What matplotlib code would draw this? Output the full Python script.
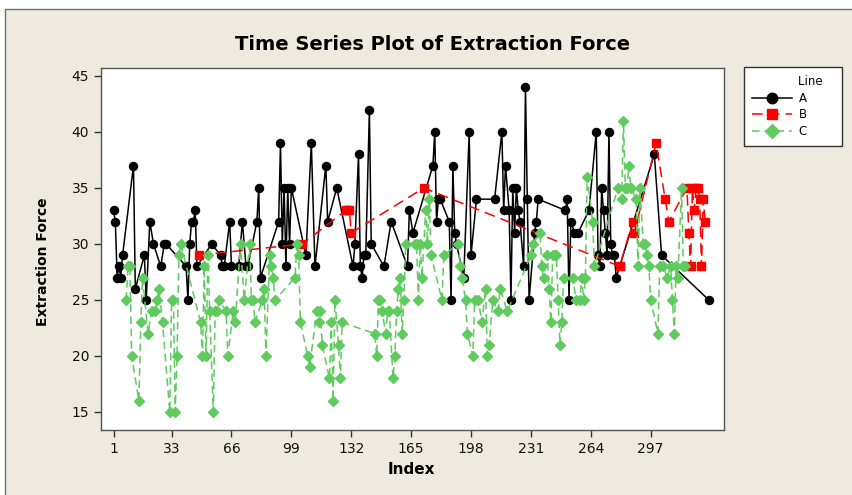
import matplotlib
matplotlib.use("Agg")
import matplotlib.pyplot as plt
from matplotlib.patches import Rectangle

# (index, extraction force), one list per line group
series_a = [(1, 33), (2, 32), (3, 27), (4, 28), (5, 27), (6, 29), (12, 37), (13, 26),
            (18, 29), (19, 25), (21, 32), (23, 30), (27, 28), (29, 30), (30, 30),
            (41, 28), (42, 25), (43, 30), (44, 32), (45, 32), (46, 33), (47, 28),
            (55, 30), (60, 29), (61, 28), (62, 28), (65, 32), (66, 28), (70, 28),
            (72, 32), (74, 28), (75, 28), (80, 32), (81, 35), (82, 27), (92, 32),
            (93, 39), (94, 30), (95, 35), (96, 28), (97, 35), (98, 30), (99, 35),
            (107, 29), (110, 39), (112, 28), (118, 37), (119, 32), (124, 35),
            (133, 28), (134, 30), (136, 38), (137, 28), (138, 27), (139, 29),
            (140, 29), (142, 42), (143, 30), (150, 28), (154, 32), (163, 28),
            (164, 33), (166, 31), (177, 37), (178, 40), (179, 32), (180, 34),
            (181, 34), (186, 32), (187, 25), (188, 37), (189, 31), (190, 30),
            (194, 27), (197, 40), (198, 29), (201, 34), (211, 34), (215, 40),
            (216, 33), (217, 37), (219, 33), (220, 25), (221, 35), (222, 31),
            (223, 35), (224, 33), (225, 32), (227, 28), (228, 44), (229, 34),
            (230, 25), (233, 31), (234, 32), (235, 34), (250, 33), (251, 34),
            (252, 25), (253, 32), (255, 31), (257, 31), (263, 33), (267, 40),
            (268, 29), (269, 28), (270, 35), (271, 33), (272, 31), (273, 29),
            (274, 40), (275, 30), (276, 29), (277, 29), (278, 27), (299, 38),
            (303, 29), (329, 25)]

series_b = [(48, 29), (105, 30), (129, 33), (130, 33), (131, 33), (132, 31),
            (172, 35), (280, 28), (287, 32), (288, 31), (300, 39), (305, 34),
            (307, 32), (317, 35), (318, 31), (319, 28), (320, 35), (321, 33),
            (322, 35), (323, 35), (324, 34), (325, 28), (326, 34), (327, 32)]

series_c = [(8, 25), (9, 28), (10, 28), (11, 20), (15, 16), (16, 23), (17, 27),
            (20, 22), (22, 24), (24, 24), (25, 25), (26, 26), (28, 23), (32, 15),
            (33, 25), (34, 25), (35, 15), (36, 20), (37, 29), (38, 30), (49, 23),
            (50, 20), (51, 28), (52, 20), (53, 29), (54, 24), (56, 15), (57, 24),
            (58, 24), (59, 25), (63, 24), (64, 20), (67, 24), (68, 23), (71, 30),
            (73, 25), (76, 30), (77, 25), (78, 25), (79, 23), (83, 25), (84, 26),
            (85, 20), (87, 29), (88, 28), (89, 27), (90, 25), (101, 27), (102, 30),
            (103, 29), (104, 23), (108, 20), (109, 19), (113, 24), (114, 23),
            (115, 24), (116, 21), (120, 18), (121, 23), (122, 16), (123, 25),
            (125, 21), (126, 18), (127, 23), (145, 22), (146, 20), (147, 25),
            (148, 25), (149, 24), (151, 22), (152, 24), (153, 24), (155, 18),
            (156, 20), (157, 24), (158, 26), (159, 27), (160, 22), (161, 25),
            (162, 30), (167, 30), (168, 30), (169, 25), (170, 30), (171, 27),
            (173, 33), (174, 30), (175, 34), (176, 29), (182, 25), (183, 29),
            (191, 30), (192, 28), (193, 27), (195, 25), (196, 22), (199, 20),
            (200, 25), (202, 25), (204, 23), (206, 26), (207, 20), (208, 21),
            (210, 25), (213, 24), (214, 26), (218, 24), (231, 29), (232, 30),
            (236, 31), (237, 28), (238, 27), (240, 29), (241, 26), (242, 23),
            (243, 29), (244, 29), (245, 29), (246, 25), (247, 21), (248, 23),
            (249, 27), (254, 27), (256, 25), (258, 25), (259, 27), (260, 25),
            (261, 27), (262, 36), (265, 32), (266, 28), (279, 35), (281, 34),
            (282, 41), (283, 35), (284, 35), (285, 37), (286, 35), (289, 34),
            (290, 28), (291, 35), (293, 30), (294, 30), (295, 29), (296, 28),
            (297, 25), (301, 22), (302, 28), (304, 28), (306, 27), (308, 28),
            (309, 25), (310, 22), (311, 28), (312, 27), (314, 35), (315, 28),
            (316, 28)]

x_ticks = [1, 33, 66, 99, 132, 165, 198, 231, 264, 297]
y_ticks = [15, 20, 25, 30, 35, 40, 45]
group_labels = ["A", "B", "C"]

W, H = 852, 495
fig = plt.figure(figsize=(W / 100, H / 100), dpi=100, facecolor="white")

# Minitab-style beige graph region, kept behind the axes
fig.patches.append(Rectangle((5 / W, -0.05), 1.1, 1 - 9 / H + 0.05,
                             transform=fig.transFigure, facecolor="#EEEAE0",
                             edgecolor="#707070", linewidth=1, zorder=-10))

ax = fig.add_axes([101 / W, 1 - 430 / H, (724 - 101) / W, (430 - 68) / H])
ax.set_facecolor("white")

xa, ya = zip(*series_a)
xb, yb = zip(*series_b)
xc, yc = zip(*series_c)

la, = ax.plot(xa, ya, color="black", lw=1.1, marker="o", ms=5.8, zorder=3)
lb, = ax.plot(xb, yb, color="#FF0000", lw=1.1, ls=(0, (7, 4)), marker="s",
              ms=5.2, zorder=4)
lc, = ax.plot(xc, yc, color="#5FCB5F", lw=1.1, ls=(0, (5, 3)), marker="D",
              ms=5.2, zorder=5)

ax.set_xlim(-5.9, 337.4)
ax.set_ylim(13.39, 45.71)
ax.set_xticks(x_ticks)
ax.set_yticks(y_ticks)
ax.tick_params(direction="out", length=5, width=1, colors="#333333",
               labelsize=10, labelcolor="#111111")
for s in ax.spines.values():
    s.set_color("#555555")
    s.set_linewidth(1)

fig.text(433 / W, 1 - 44 / H, "Time Series Plot of Extraction Force",
         ha="center", va="center", fontsize=14, fontweight="bold")
fig.text(411 / W, 1 - 470 / H, "Index", ha="center", va="center",
         fontsize=11, fontweight="bold")
fig.text(43 / W, 1 - 262 / H, "Extraction Force", ha="center", va="center",
         rotation=90, fontsize=10, fontweight="bold")

# trailing spaces widen the box the way Minitab's legend is padded
leg = fig.legend(handles=[la, lb, lc],
                 labels=[g + "       " for g in group_labels], title="Line   ",
                 loc="upper left", bbox_to_anchor=(744 / W, 1 - 67 / H),
                 fontsize=8.5, title_fontsize=8.5, handlelength=3.4,
                 handletextpad=0.6, alignment="right", borderaxespad=0,
                 fancybox=False, edgecolor="#333333", facecolor="white",
                 framealpha=1, labelspacing=0.3, borderpad=0.7,
                 markerscale=1.3)
leg.get_frame().set_linewidth(1)

fig.savefig("out.png", dpi=100, facecolor=fig.get_facecolor())
